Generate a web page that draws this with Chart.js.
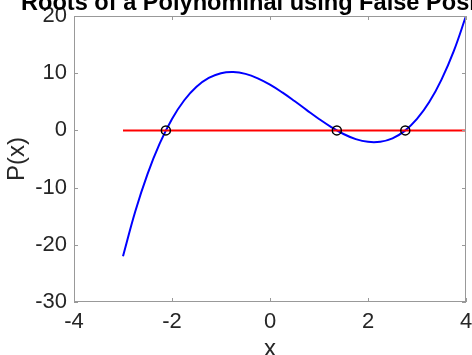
<!DOCTYPE html>
<html>
<head>
<meta charset="utf-8">
<script src="https://cdn.jsdelivr.net/npm/chart.js@4/dist/chart.umd.min.js"></script>
<style>
  html, body { margin: 0; padding: 0; background: #fff; }
  #wrap { width: 472px; height: 355px; }
</style>
</head>
<body>
<div id="wrap"><canvas id="chart" width="472" height="355"></canvas></div>
<script>
// values
const xVals = [-3, -2.75, -2.5, -2.25, -2, -1.75, -1.5, -1.25, -1, -0.75, -0.5, -0.25, 0,
  0.25, 0.5, 0.75, 1, 1.25, 1.5, 1.75, 2, 2.25, 2.5, 2.75, 3, 3.25, 3.5, 3.75, 4];
const pVals = [-22, -14.17, -7.63, -2.27, 2, 5.27, 7.63, 9.17, 10, 10.2, 9.88, 9.11, 8,
  6.64, 5.13, 3.55, 2, 0.58, -0.63, -1.52, -2, -1.98, -1.38, -0.08, 2, 4.95, 8.88, 13.86, 20];
const zeroLineX = [-3, 4];
const zeroLineY = [0, 0];
const rootX = [-2.125, 1.364, 2.761];
const rootY = [0, 0, 0];

const xTicks = [-4, -2, 0, 2, 4];
const yTicks = [-30, -20, -10, 0, 10, 20];

const titleText = "Roots of a Polynominal using False Position";
const xLabel = "x";
const yLabel = "P(x)";

const FONT = "'Liberation Sans', Arial, Helvetica, sans-serif";
const AXIS_COLOR = "#999999";

const toPoints = (xs, ys) => xs.map((x, i) => ({ x: x, y: ys[i] }));

// labels may hang outside the plot box, like in matlab
const noOverflowPad = s => {
  s.paddingLeft = 0; s.paddingRight = 0; s.paddingTop = 0; s.paddingBottom = 0;
};

// box, inward ticks and the text labels
const matlabFrame = {
  id: "matlabFrame",
  afterDatasetsDraw(chart) {
    const { ctx, chartArea: a, scales } = chart;
    ctx.save();
    ctx.strokeStyle = AXIS_COLOR;
    ctx.lineWidth = 1;
    ctx.strokeRect(a.left + 0.5, a.top + 0.5, a.right - a.left - 1, a.bottom - a.top - 1);
    ctx.beginPath();
    xTicks.forEach(v => {
      const px = Math.round(scales.x.getPixelForValue(v)) + 0.5;
      ctx.moveTo(px, a.bottom); ctx.lineTo(px, a.bottom - 4);
      ctx.moveTo(px, a.top); ctx.lineTo(px, a.top + 4);
    });
    yTicks.forEach(v => {
      const py = Math.round(scales.y.getPixelForValue(v)) + 0.5;
      ctx.moveTo(a.left, py); ctx.lineTo(a.left + 4, py);
      ctx.moveTo(a.right, py); ctx.lineTo(a.right - 4, py);
    });
    ctx.stroke();

    const cx = (a.left + a.right) / 2;
    ctx.fillStyle = "#000";
    ctx.textAlign = "center";
    ctx.textBaseline = "alphabetic";
    ctx.font = "bold 23.6px " + FONT;
    ctx.fillText(titleText, cx, 10);

    ctx.fillStyle = "#262626";
    ctx.font = "24px " + FONT;
    ctx.fillText(xLabel, cx, 356);

    ctx.translate(24, (a.top + a.bottom) / 2);
    ctx.rotate(-Math.PI / 2);
    ctx.fillText(yLabel, 0, 0);
    ctx.restore();
  }
};

new Chart(document.getElementById("chart"), {
  type: "scatter",
  data: {
    datasets: [
      {
        label: "roots",
        data: toPoints(rootX, rootY),
        showLine: false,
        pointStyle: "circle",
        pointRadius: 4.5,
        pointBorderWidth: 1.5,
        pointBorderColor: "#000",
        pointBackgroundColor: "rgba(0,0,0,0)",
        order: 0
      },
      {
        label: "zero",
        data: toPoints(zeroLineX, zeroLineY),
        showLine: true,
        borderColor: "#ff0000",
        borderWidth: 2,
        pointRadius: 0,
        order: 1
      },
      {
        label: "P(x)",
        data: toPoints(xVals, pVals),
        showLine: true,
        borderColor: "#0000ff",
        borderWidth: 2,
        tension: 0.4,
        pointRadius: 0,
        order: 2
      }
    ]
  },
  options: {
    responsive: false,
    animation: false,
    layout: { padding: { top: 16, right: 6, left: 0, bottom: 0 } },
    plugins: { legend: { display: false }, tooltip: { enabled: false } },
    scales: {
      x: {
        type: "linear",
        min: -4,
        max: 4,
        afterBuildTicks: s => { s.ticks = xTicks.map(v => ({ value: v })); },
        afterFit: s => { s.height = 53; noOverflowPad(s); },
        grid: { display: false, drawTicks: false },
        border: { display: false },
        ticks: { padding: 7, color: "#262626", font: { family: FONT, size: 22 }, maxRotation: 0 }
      },
      y: {
        type: "linear",
        min: -30,
        max: 20,
        afterBuildTicks: s => { s.ticks = yTicks.map(v => ({ value: v })); },
        afterFit: s => { s.width = 74; noOverflowPad(s); },
        grid: { display: false, drawTicks: false },
        border: { display: false },
        ticks: { padding: 7, color: "#262626", font: { family: FONT, size: 22 } }
      }
    }
  },
  plugins: [matlabFrame]
});
</script>
</body>
</html>
